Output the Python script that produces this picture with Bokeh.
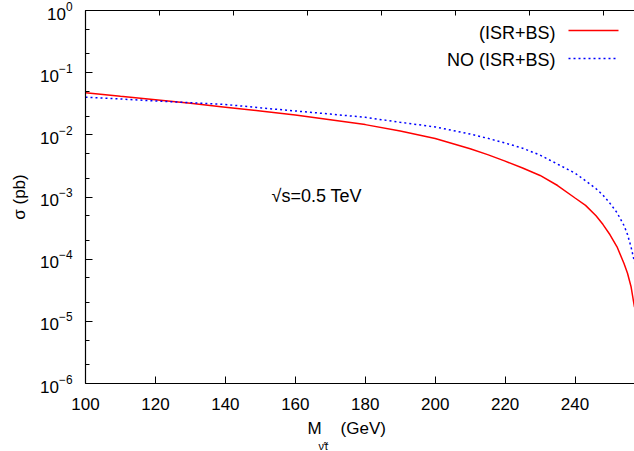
import math
from bokeh.plotting import figure
from bokeh.models import (Range1d, LinearAxis, FixedTicker, SingleIntervalTicker,
                          Label, Arrow, Title, CustomLabelingPolicy)
from bokeh.embed import file_html
from bokeh.resources import INLINE

# ---- data ----
mass = [100, 110, 120, 130, 140, 150, 160, 170, 180, 190, 200, 210, 215, 220,
        225, 230, 235, 240, 243, 246, 248, 250, 252, 254, 255, 256, 257]
sigma_isr_bs = [0.0475, 0.0417, 0.0367, 0.0322, 0.0279, 0.0242, 0.0208, 0.0175,
                0.0146, 0.0115, 0.00876, 0.00596, 0.00481, 0.00377, 0.00293,
                0.00222, 0.00153, 0.000964, 0.000733, 0.000498, 0.000360,
                0.000247, 0.000158, 8.52e-5, 5.95e-5, 3.64e-5, 1.69e-5]
sigma_no_isr_bs = [0.0403, 0.0377, 0.0351, 0.0329, 0.0308, 0.0272, 0.0242, 0.0216,
                   0.0191, 0.0159, 0.0134, 0.0103, 0.00880, 0.00739, 0.00610,
                   0.00472, 0.00338, 0.00242, 0.00182, 0.00136, 0.00107,
                   0.000789, 0.000559, 0.000348, 0.000249, 0.000158, 8.94e-5]
x_ticks = [100, 120, 140, 160, 180, 200, 220, 240]
y_major = [1e-6, 1e-5, 1e-4, 1e-3, 1e-2, 1e-1, 1e0]
y_minor = [m * 10.0 ** e for e in range(-6, 0) for m in (2, 5)]
legend_labels = ["(ISR+BS)", "NO (ISR+BS)"]

FONT = "Liberation Sans"

p = figure(width=634, height=451, x_range=Range1d(100, 257), y_range=Range1d(1e-6, 1),
           y_axis_type="log", output_backend="svg", toolbar_location=None,
           min_border_left=85, min_border_right=0, min_border_top=10, min_border_bottom=68)
p.outline_line_color = None
p.xgrid.visible = False
p.ygrid.visible = False
p.background_fill_color = "white"
p.border_fill_color = "white"

# bottom axis
xa = p.xaxis[0]
xa.ticker = FixedTicker(ticks=x_ticks, minor_ticks=[])
xa.major_tick_in = 7
xa.major_tick_out = 0
xa.minor_tick_in = 0
xa.minor_tick_out = 0
xa.major_label_standoff = 14
xa.major_label_text_font = FONT
xa.major_label_text_font_size = "17px"
xa.major_label_text_color = "black"
xa.axis_line_color = "black"
xa.axis_line_width = 1.2
xa.major_tick_line_color = "black"

# left axis
ya = p.yaxis[0]
ya.ticker = FixedTicker(ticks=y_major, minor_ticks=y_minor)
ya.major_tick_in = 7
ya.major_tick_out = 0
ya.minor_tick_in = 4
ya.minor_tick_out = 0
ya.major_label_standoff = 13
ya.major_label_text_font = FONT
ya.major_label_text_font_size = "17px"
ya.major_label_text_color = "black"
ya.axis_line_color = "black"
ya.axis_line_width = 1.2
ya.major_tick_line_color = "black"
ya.minor_tick_line_color = "black"
ya.axis_label = "σ (pb)"
ya.axis_label_text_font = FONT
ya.axis_label_text_font_size = "17px"
ya.axis_label_text_font_style = "normal"
ya.axis_label_text_color = "black"
ya.axis_label_standoff = 8

# top border with its own ticks (no labels)
p.extra_x_ranges = {"top": Range1d(100, 248.4)}
top = LinearAxis(x_range_name="top", ticker=SingleIntervalTicker(interval=20, num_minor_ticks=0))
top.major_tick_in = 5
top.major_tick_out = 0
top.minor_tick_in = 0
top.minor_tick_out = 0
top.major_label_standoff = 0
top.major_label_text_font_size = "0px"
top.major_label_policy = CustomLabelingPolicy(code="""
    const all = [...indices]
    for (const i of all) indices.unset(i)
    return indices
""")
top.axis_line_color = "black"
top.axis_line_width = 1.2
p.add_layout(top, "above")

# curves
p.line(mass, sigma_isr_bs, line_color="#ff0000", line_width=1.5)
p.line(mass, sigma_no_isr_bs, line_color="#0000ff", line_width=1.5, line_dash="2 3")

# legend (text left of sample line)
p.add_layout(Label(x=470, y=351, x_units="screen", y_units="screen", text=legend_labels[0],
                   text_align="right", text_baseline="middle", text_font=FONT,
                   text_font_size="18px", text_color="black"))
p.add_layout(Label(x=470, y=323.5, x_units="screen", y_units="screen", text=legend_labels[1],
                   text_align="right", text_baseline="middle", text_font=FONT,
                   text_font_size="18px", text_color="black"))
p.add_layout(Arrow(end=None, x_start=483, y_start=353, x_end=533, y_end=353,
                   start_units="screen", end_units="screen",
                   line_color="#ff0000", line_width=1.5))
p.add_layout(Arrow(end=None, x_start=483, y_start=325, x_end=533, y_end=325,
                   start_units="screen", end_units="screen",
                   line_color="#0000ff", line_width=1.5, line_dash="2 3"))

# annotation
p.add_layout(Label(x=186, y=187.5, x_units="screen", y_units="screen", text="√s=0.5 TeV",
                   text_align="left", text_baseline="middle", text_font=FONT,
                   text_font_size="18px", text_color="black"))

# x axis title: "M" + subscript + "(GeV)"
t1 = Title(text="M\u00a0\u00a0\u00a0\u00a0(GeV)", align="left", offset=222, standoff=8,
           text_font=FONT, text_font_size="17px", text_font_style="normal",
           text_color="black")
t2 = Title(text="ν̃τ", align="left", offset=233, standoff=-8,
           text_font=FONT, text_font_size="11px", text_font_style="normal",
           text_color="black")
p.add_layout(t1, "below")
p.add_layout(t2, "below")

open("out.html", "w").write(file_html(p, INLINE))
